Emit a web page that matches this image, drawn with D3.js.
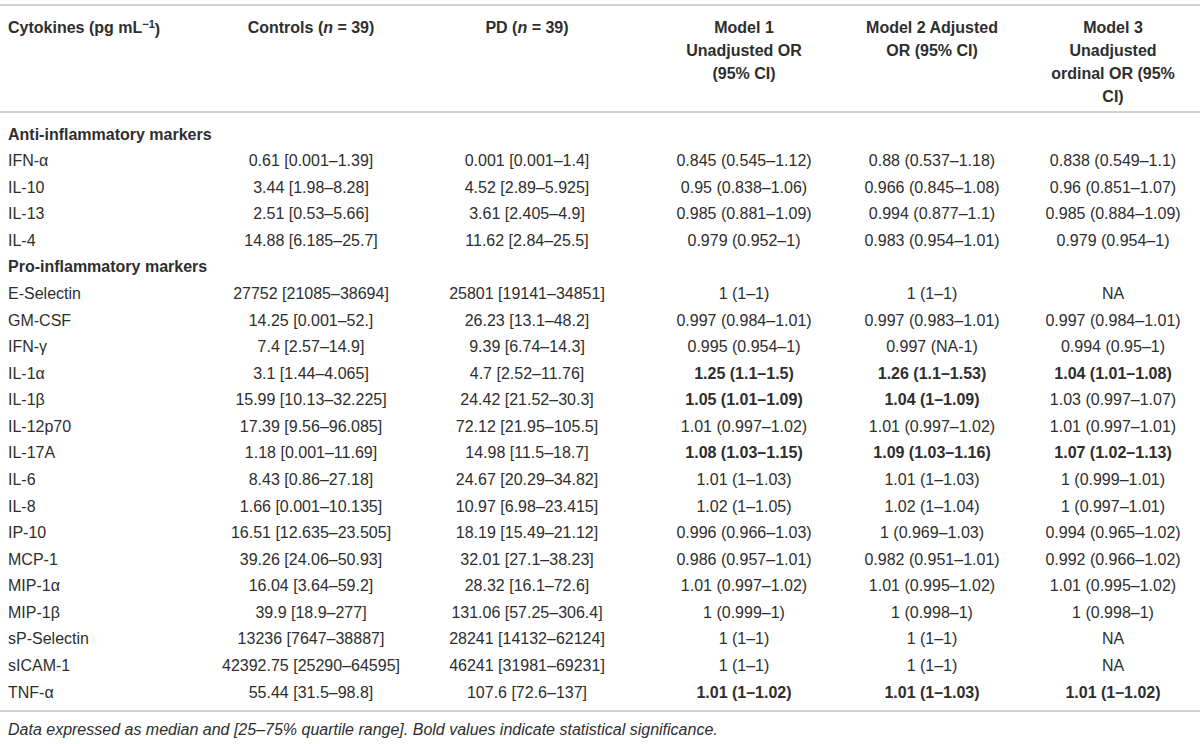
<!DOCTYPE html>
<html>
<head>
<meta charset="utf-8">
<script src="https://cdn.jsdelivr.net/npm/d3@7"></script>
<style>
  body { margin: 0; background: #fff; }
  svg text { font-family: "Liberation Sans", Arial, sans-serif; font-size: 16px; fill: #2e2e2e; }
  .head { font-weight: bold; }
  .sig { font-weight: bold; }
  .note { font-style: italic; }
</style>
</head>
<body>
<svg id="chart"></svg>
<script>
var firstHeaders = ["Cytokines (pg mL", "Controls (n = 39)", "PD (n = 39)"];
var modelHeaders = [
  ["Model 1", "Unadjusted OR", "(95% CI)"],
  ["Model 2 Adjusted", "OR (95% CI)"],
  ["Model 3", "Unadjusted", "ordinal OR (95%", "CI)"]
];
var groups = ["Anti-inflammatory markers", "Pro-inflammatory markers"];
var antiMarkers = ["IFN-α", "IL-10", "IL-13", "IL-4"];
var proMarkers = ["E-Selectin", "GM-CSF", "IFN-γ", "IL-1α", "IL-1β", "IL-12p70", "IL-17A", "IL-6",
  "IL-8", "IP-10", "MCP-1", "MIP-1α", "MIP-1β", "sP-Selectin", "sICAM-1", "TNF-α"];

var controls = ["0.61 [0.001–1.39]", "3.44 [1.98–8.28]", "2.51 [0.53–5.66]", "14.88 [6.185–25.7]",
  "27752 [21085–38694]", "14.25 [0.001–52.]", "7.4 [2.57–14.9]", "3.1 [1.44–4.065]", "15.99 [10.13–32.225]",
  "17.39 [9.56–96.085]", "1.18 [0.001–11.69]", "8.43 [0.86–27.18]", "1.66 [0.001–10.135]", "16.51 [12.635–23.505]",
  "39.26 [24.06–50.93]", "16.04 [3.64–59.2]", "39.9 [18.9–277]", "13236 [7647–38887]", "42392.75 [25290–64595]",
  "55.44 [31.5–98.8]"];
var pd = ["0.001 [0.001–1.4]", "4.52 [2.89–5.925]", "3.61 [2.405–4.9]", "11.62 [2.84–25.5]",
  "25801 [19141–34851]", "26.23 [13.1–48.2]", "9.39 [6.74–14.3]", "4.7 [2.52–11.76]", "24.42 [21.52–30.3]",
  "72.12 [21.95–105.5]", "14.98 [11.5–18.7]", "24.67 [20.29–34.82]", "10.97 [6.98–23.415]", "18.19 [15.49–21.12]",
  "32.01 [27.1–38.23]", "28.32 [16.1–72.6]", "131.06 [57.25–306.4]", "28241 [14132–62124]", "46241 [31981–69231]",
  "107.6 [72.6–137]"];
var model1 = ["0.845 (0.545–1.12)", "0.95 (0.838–1.06)", "0.985 (0.881–1.09)", "0.979 (0.952–1)",
  "1 (1–1)", "0.997 (0.984–1.01)", "0.995 (0.954–1)", "1.25 (1.1–1.5)", "1.05 (1.01–1.09)",
  "1.01 (0.997–1.02)", "1.08 (1.03–1.15)", "1.01 (1–1.03)", "1.02 (1–1.05)", "0.996 (0.966–1.03)",
  "0.986 (0.957–1.01)", "1.01 (0.997–1.02)", "1 (0.999–1)", "1 (1–1)", "1 (1–1)", "1.01 (1–1.02)"];
var model2 = ["0.88 (0.537–1.18)", "0.966 (0.845–1.08)", "0.994 (0.877–1.1)", "0.983 (0.954–1.01)",
  "1 (1–1)", "0.997 (0.983–1.01)", "0.997 (NA-1)", "1.26 (1.1–1.53)", "1.04 (1–1.09)",
  "1.01 (0.997–1.02)", "1.09 (1.03–1.16)", "1.01 (1–1.03)", "1.02 (1–1.04)", "1 (0.969–1.03)",
  "0.982 (0.951–1.01)", "1.01 (0.995–1.02)", "1 (0.998–1)", "1 (1–1)", "1 (1–1)", "1.01 (1–1.03)"];
var model3 = ["0.838 (0.549–1.1)", "0.96 (0.851–1.07)", "0.985 (0.884–1.09)", "0.979 (0.954–1)",
  "NA", "0.997 (0.984–1.01)", "0.994 (0.95–1)", "1.04 (1.01–1.08)", "1.03 (0.997–1.07)",
  "1.01 (0.997–1.01)", "1.07 (1.02–1.13)", "1 (0.999–1.01)", "1 (0.997–1.01)", "0.994 (0.965–1.02)",
  "0.992 (0.966–1.02)", "1.01 (0.995–1.02)", "1 (0.998–1)", "NA", "NA", "1.01 (1–1.02)"];
var sig1 = ["IL-1α", "IL-1β", "IL-17A", "TNF-α"];
var sig2 = ["IL-1α", "IL-1β", "IL-17A", "TNF-α"];
var sig3 = ["IL-1α", "IL-17A", "TNF-α"];
var footnote = "Data expressed as median and [25–75% quartile range]. Bold values indicate statistical significance.";

var W = 1200, H = 744;
var svg = d3.select("#chart").attr("width", W).attr("height", H);

// rows: group header, markers..., group header, markers...
var rows = [];
rows.push({type: "group", label: groups[0]});
antiMarkers.forEach(function (m) { rows.push({type: "row", label: m}); });
rows.push({type: "group", label: groups[1]});
proMarkers.forEach(function (m) { rows.push({type: "row", label: m}); });
var k = 0;
rows.forEach(function (r) {
  if (r.type == "row") {
    r.cells = [controls[k], pd[k], model1[k], model2[k], model3[k]];
    r.bold = [false, false, sig1.indexOf(r.label) >= 0, sig2.indexOf(r.label) >= 0, sig3.indexOf(r.label) >= 0];
    k++;
  }
});

var y = d3.scalePoint().domain(d3.range(rows.length)).range([134, 692]);
var x = d3.scaleOrdinal().domain(d3.range(5)).range([311, 527, 744, 932, 1113]);
var LEFT = 8;

// rules
svg.selectAll(".rule").data([5, 112, 711]).enter().append("line")
  .attr("x1", 0).attr("x2", W).attr("y1", function (d) { return d; }).attr("y2", function (d) { return d; })
  .style("stroke", "#d0d0d0").style("stroke-width", 2);

// header
var hy = d3.scaleLinear().domain([0, 1]).range([27, 50]);
var h = svg.append("g");
var c0 = h.append("text").attr("class", "head").attr("x", LEFT).attr("y", hy(0)).attr("dy", "0.35em");
c0.append("tspan").text(firstHeaders[0]);
c0.append("tspan").attr("dy", "-0.45em").style("font-size", "11px").text("−1");
c0.append("tspan").attr("dy", "0.45em").text(")");

[1, 2].forEach(function (ci) {
  var s = firstHeaders[ci], p = s.indexOf("(n") + 1;
  var t = h.append("text").attr("class", "head").attr("x", x(ci - 1)).attr("y", hy(0)).attr("dy", "0.35em")
    .attr("text-anchor", "middle");
  t.append("tspan").text(s.slice(0, p));
  t.append("tspan").style("font-style", "italic").text("n");
  t.append("tspan").text(s.slice(p + 1));
});

modelHeaders.forEach(function (lines, mi) {
  h.selectAll(null).data(lines).enter().append("text")
    .attr("class", "head")
    .attr("x", x(mi + 2))
    .attr("y", function (d, i) { return hy(i); })
    .attr("dy", "0.35em")
    .attr("text-anchor", "middle")
    .text(function (d) { return d; });
});

// body
var g = svg.selectAll(".row").data(rows).enter().append("g")
  .attr("class", "row")
  .attr("transform", function (d, i) { return "translate(0," + y(i) + ")"; });

g.append("text")
  .attr("class", function (d) { return d.type == "group" ? "head" : null; })
  .attr("x", LEFT).attr("dy", "0.35em")
  .text(function (d) { return d.label; });

g.filter(function (d) { return d.type == "row"; })
  .selectAll(".cell")
  .data(function (d) { return d.cells.map(function (c, i) { return {text: c, bold: d.bold[i], i: i}; }); })
  .enter().append("text")
  .attr("class", function (d) { return d.bold ? "cell sig" : "cell"; })
  .attr("x", function (d) { return x(d.i); })
  .attr("dy", "0.35em")
  .attr("text-anchor", "middle")
  .text(function (d) { return d.text; });

svg.append("text").attr("class", "note").attr("x", LEFT).attr("y", 729).attr("dy", "0.35em").text(footnote);
</script>
</body>
</html>
